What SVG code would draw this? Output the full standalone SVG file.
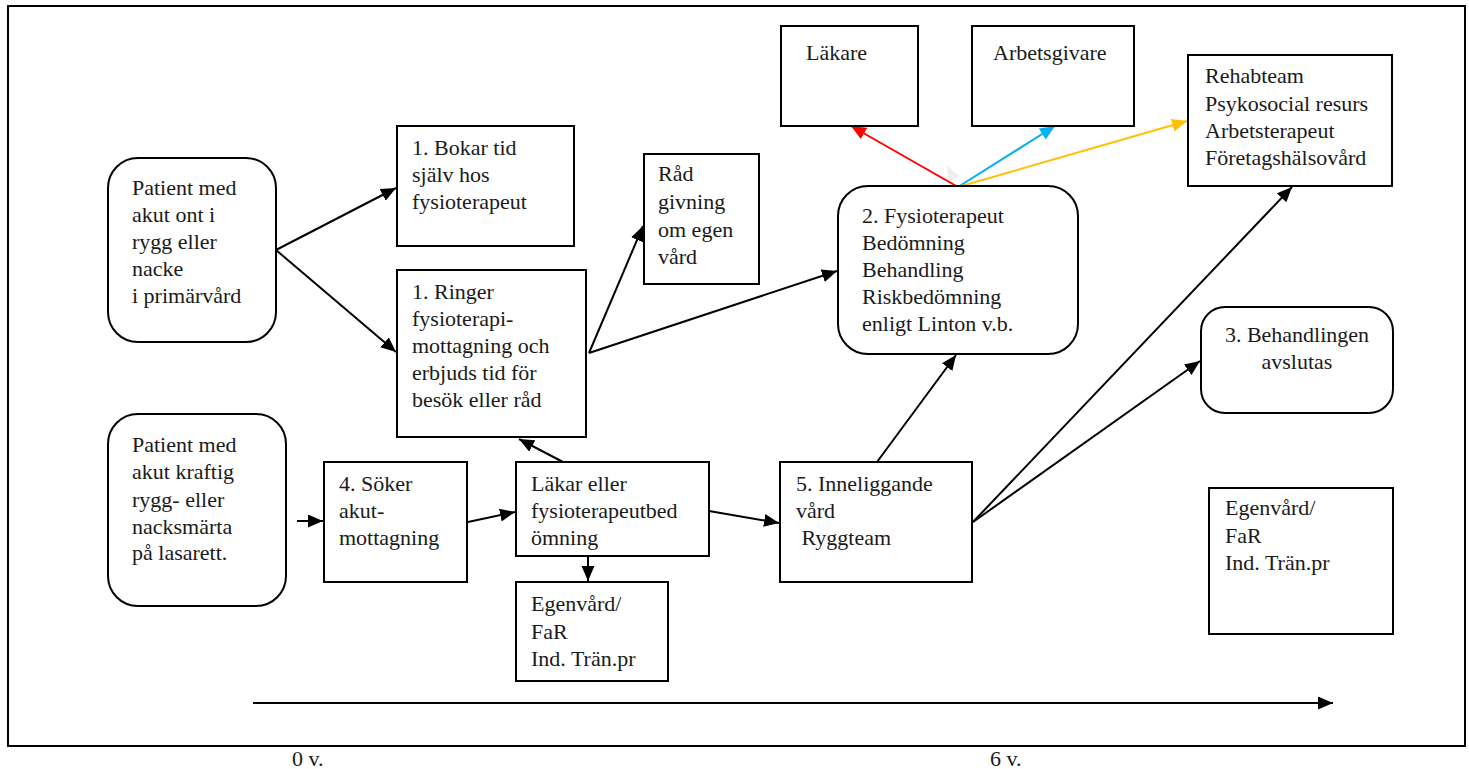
<svg xmlns="http://www.w3.org/2000/svg" width="1469" height="769" viewBox="0 0 1469 769">
<style>
.b{fill:#fff;stroke:#000;stroke-width:2}
text{font-family:"Liberation Serif","Times New Roman",serif;font-size:22px;fill:#1a1a1a}
.c{fill:none;stroke:#000;stroke-width:2}
.c2{fill:none;stroke-width:2}
</style>
<defs>
<marker id="a" markerUnits="userSpaceOnUse" markerWidth="16" markerHeight="14" refX="15" refY="6.5" orient="auto"><path d="M0,0 L15,6.5 L0,13 z" fill="#000"/></marker>
<marker id="ar" markerUnits="userSpaceOnUse" markerWidth="16" markerHeight="14" refX="15" refY="6.5" orient="auto"><path d="M0,0 L15,6.5 L0,13 z" fill="#ff0000"/></marker>
<marker id="ab" markerUnits="userSpaceOnUse" markerWidth="16" markerHeight="14" refX="15" refY="6.5" orient="auto"><path d="M0,0 L15,6.5 L0,13 z" fill="#00b0f0"/></marker>
<marker id="ay" markerUnits="userSpaceOnUse" markerWidth="16" markerHeight="14" refX="15" refY="6.5" orient="auto"><path d="M0,0 L15,6.5 L0,13 z" fill="#ffc000"/></marker>
<marker id="ag" markerUnits="userSpaceOnUse" markerWidth="16" markerHeight="14" refX="15" refY="6.5" orient="auto"><path d="M0,0 L15,6.5 L0,13 z" fill="#eeeeee"/></marker>
</defs>
<rect x="8" y="6" width="1457" height="740" fill="#fff" stroke="#000" stroke-width="2"/>

<g id="connectors">
<line class="c" x1="276" y1="250" x2="396" y2="188" marker-end="url(#a)"/>
<line class="c" x1="276" y1="250" x2="396" y2="352" marker-end="url(#a)"/>
<line class="c" x1="589" y1="353" x2="643" y2="226" marker-end="url(#a)"/>
<line class="c" x1="589" y1="353" x2="837" y2="271" marker-end="url(#a)"/>
<line class="c" x1="563" y1="462" x2="519" y2="439" marker-end="url(#a)"/>
<line class="c" x1="297" y1="521" x2="323" y2="521" marker-end="url(#a)"/>
<line class="c" x1="468" y1="522" x2="515" y2="512" marker-end="url(#a)"/>
<line class="c" x1="709" y1="511" x2="779" y2="523" marker-end="url(#a)"/>
<line class="c" x1="588" y1="556" x2="588" y2="581" marker-end="url(#a)"/>
<line class="c" x1="877" y1="462" x2="956" y2="355" marker-end="url(#a)"/>
<line class="c" x1="973" y1="522" x2="1292" y2="187" marker-end="url(#a)"/>
<line class="c" x1="973" y1="522" x2="1200" y2="361" marker-end="url(#a)"/>
<line class="c2" stroke="#fff" x1="958" y1="187" x2="947" y2="166" marker-end="url(#ag)"/>
<line class="c2" stroke="#ff0000" x1="958" y1="187" x2="851" y2="126" marker-end="url(#ar)"/>
<line class="c2" stroke="#00b0f0" x1="958" y1="187" x2="1055" y2="126" marker-end="url(#ab)"/>
<line class="c2" stroke="#ffc000" x1="958" y1="187" x2="1187" y2="121" marker-end="url(#ay)"/>
<line class="c" stroke-width="2.5" x1="253" y1="703" x2="1333" y2="703" marker-end="url(#a)"/>
</g>

<g id="patient1">
<rect class="b" x="108" y="158" width="168" height="184" rx="30"/>
<text x="132" y="195">Patient med</text>
<text x="132" y="222">akut ont i</text>
<text x="132" y="249">rygg eller</text>
<text x="132" y="276">nacke</text>
<text x="132" y="303">i primärvård</text>
</g>

<g id="bokar">
<rect class="b" x="397" y="126" width="177" height="120"/>
<text x="412" y="155">1. Bokar tid</text>
<text x="412" y="182">själv hos</text>
<text x="412" y="209">fysioterapeut</text>
</g>

<g id="ringer">
<rect class="b" x="397" y="270" width="189" height="167"/>
<text x="412" y="299">1. Ringer</text>
<text x="412" y="326">fysioterapi-</text>
<text x="412" y="353">mottagning och</text>
<text x="412" y="380">erbjuds tid för</text>
<text x="412" y="407">besök eller råd</text>
</g>

<g id="radgivning">
<rect class="b" x="644" y="154" width="115" height="130"/>
<text x="658" y="181">Råd</text>
<text x="658" y="209">givning</text>
<text x="658" y="237">om egen</text>
<text x="658" y="264">vård</text>
</g>

<g id="fysio">
<rect class="b" x="838" y="186" width="240" height="168" rx="30"/>
<text x="862" y="223">2. Fysioterapeut</text>
<text x="862" y="250">Bedömning</text>
<text x="862" y="277">Behandling</text>
<text x="862" y="304">Riskbedömning</text>
<text x="862" y="331">enligt Linton v.b.</text>
</g>

<g id="lakare">
<rect class="b" x="781" y="26" width="137" height="100"/>
<text x="806" y="60">Läkare</text>
</g>

<g id="arbetsgivare">
<rect class="b" x="972" y="26" width="162" height="100"/>
<text x="993" y="60">Arbetsgivare</text>
</g>

<g id="rehab">
<rect class="b" x="1188" y="55" width="204" height="131"/>
<text x="1205" y="83">Rehabteam</text>
<text x="1205" y="111">Psykosocial resurs</text>
<text x="1205" y="138">Arbetsterapeut</text>
<text x="1205" y="165">Företagshälsovård</text>
</g>

<g id="avslutas">
<rect class="b" x="1201" y="307" width="192" height="106" rx="24"/>
<text x="1297" y="342" text-anchor="middle">3. Behandlingen</text>
<text x="1297" y="369" text-anchor="middle">avslutas</text>
</g>

<g id="egenvard2">
<rect class="b" x="1209" y="488" width="184" height="146"/>
<text x="1225" y="515">Egenvård/</text>
<text x="1225" y="543">FaR</text>
<text x="1225" y="570">Ind. Trän.pr</text>
</g>

<g id="patient2">
<rect class="b" x="108" y="414" width="178" height="192" rx="30"/>
<text x="132" y="452">Patient med</text>
<text x="132" y="479">akut kraftig</text>
<text x="132" y="507">rygg- eller</text>
<text x="132" y="534">nacksmärta</text>
<text x="132" y="560">på lasarett.</text>
</g>

<g id="soker">
<rect class="b" x="324" y="462" width="143" height="120"/>
<text x="339" y="491">4. Söker</text>
<text x="339" y="518">akut-</text>
<text x="339" y="545">mottagning</text>
</g>

<g id="lakarbed">
<rect class="b" x="516" y="462" width="193" height="94"/>
<text x="531" y="491">Läkar eller</text>
<text x="531" y="518">fysioterapeutbed</text>
<text x="531" y="545">ömning</text>
</g>

<g id="egenvard1">
<rect class="b" x="516" y="582" width="152" height="99"/>
<text x="531" y="611">Egenvård/</text>
<text x="531" y="639">FaR</text>
<text x="531" y="666">Ind. Trän.pr</text>
</g>

<g id="inneliggande">
<rect class="b" x="780" y="462" width="192" height="120"/>
<text x="796" y="491">5. Inneliggande</text>
<text x="796" y="518">vård</text>
<text x="796" y="545" xml:space="preserve"> Ryggteam</text>
</g>

<g id="axis">
<text x="292" y="766" font-size="20">0 v.</text>
<text x="990" y="766" font-size="20">6 v.</text>
</g>
</svg>
